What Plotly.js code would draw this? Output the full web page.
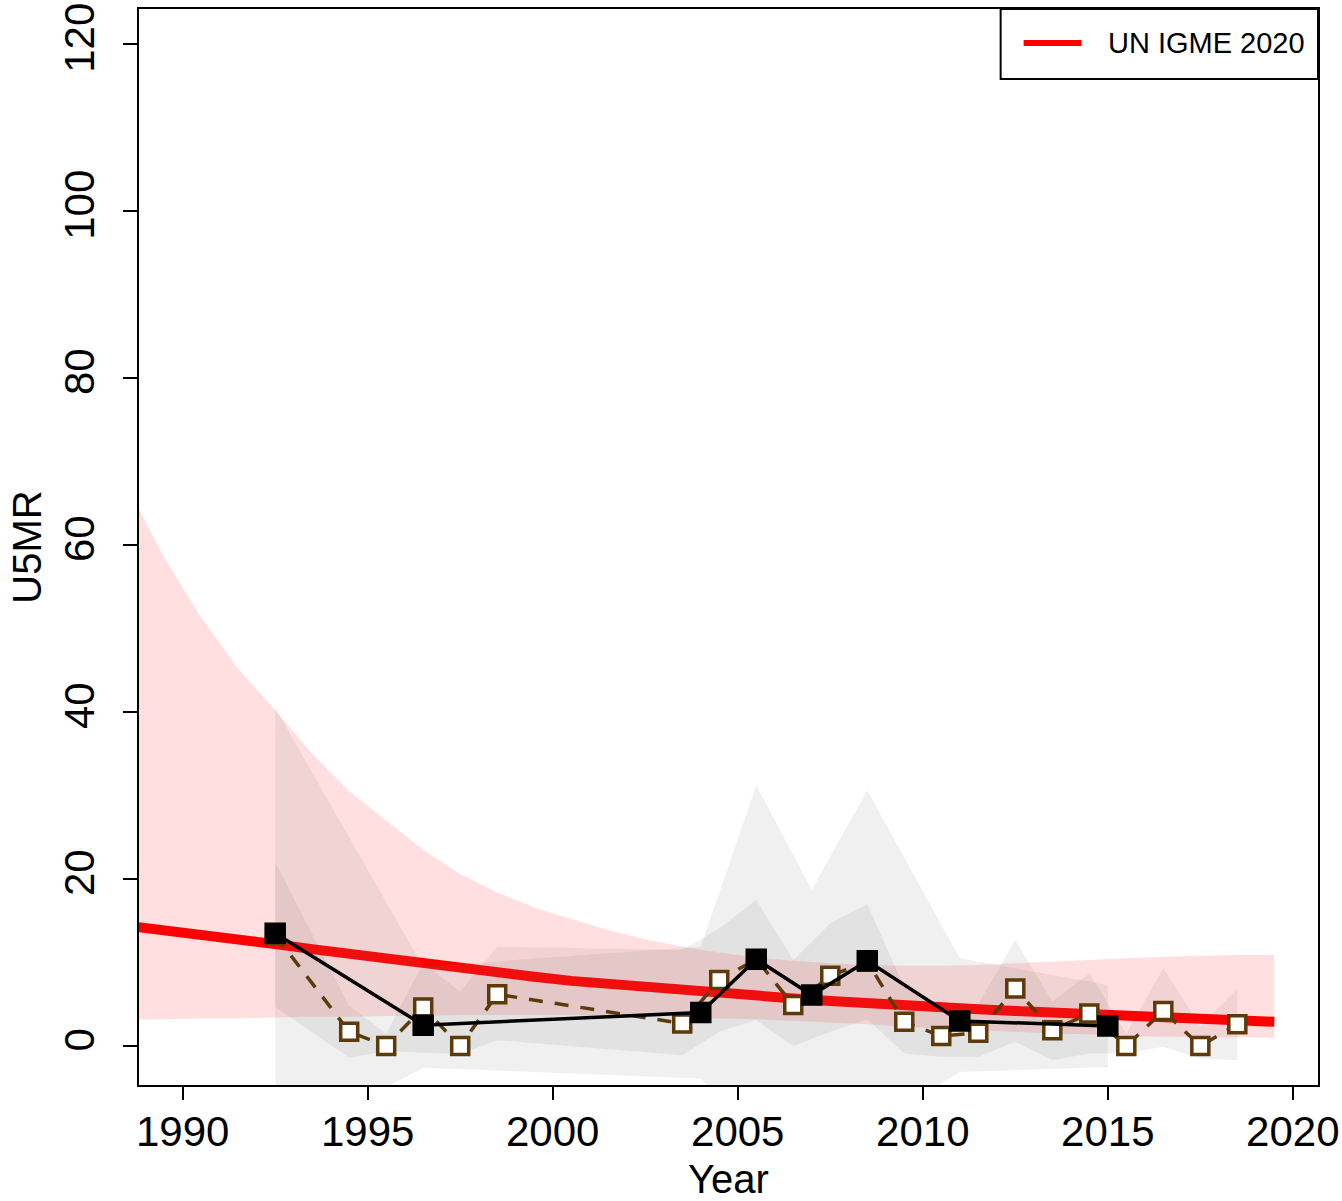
<!DOCTYPE html>
<html>
<head>
<meta charset="utf-8">
<script src="https://cdn.plot.ly/plotly-3.0.1.min.js"></script>
<style>
  html, body { margin: 0; padding: 0; background: #ffffff; }
  #chart { width: 1342px; height: 1201px; }
</style>
</head>
<body>
<div id="chart"></div>
<script>
// ---------------- data ----------------
// UN IGME 2020 estimate (median and 90% uncertainty bounds)
const estYears  = [1988.5, 1989.5, 1990.5, 1991.5, 1992.5, 1993.5, 1994.5, 1995.5, 1996.5, 1997.5,
                   1998.5, 1999.5, 2000.5, 2001.5, 2002.5, 2003.5, 2004.5, 2005.5, 2006.5, 2007.5,
                   2008.5, 2009.5, 2010.5, 2011.5, 2012.5, 2013.5, 2014.5, 2015.5, 2016.5, 2017.5,
                   2018.5, 2019.5];
const estMedian = [14.4, 13.9, 13.3, 12.8, 12.2, 11.6, 11.0, 10.4, 9.8, 9.3,
                   8.8, 8.3, 7.8, 7.4, 7.0, 6.6, 6.3, 6.0, 5.7, 5.4,
                   5.1, 4.9, 4.6, 4.4, 4.2, 4.0, 3.8, 3.6, 3.4, 3.2,
                   3.1, 2.9];
const estLower  = [3.1, 3.2, 3.3, 3.3, 3.4, 3.5, 3.5, 3.6, 3.6, 3.7,
                   3.7, 3.7, 3.7, 3.6, 3.6, 3.5, 3.3, 3.2, 3.0, 2.8,
                   2.6, 2.3, 2.1, 1.9, 1.7, 1.5, 1.4, 1.2, 1.1, 1.05,
                   1.0, 1.0];
const estUpper  = [67.0, 58.5, 51.3, 45.2, 40.2, 35.0, 30.5, 27.0, 23.5, 20.6,
                   18.4, 16.6, 15.2, 13.9, 12.8, 11.9, 11.2, 10.6, 10.2, 9.9,
                   9.7, 9.6, 9.6, 9.7, 9.9, 10.1, 10.3, 10.5, 10.7, 10.8,
                   10.9, 10.9];

// Data series 1 (black, filled squares, solid line)
const blackYears  = [1992.5, 1996.5, 2004.0, 2005.5, 2007.0, 2008.5, 2011.0, 2015.0];
const blackValues = [13.5, 2.5, 4.0, 10.4, 6.1, 10.2, 3.0, 2.4];
const blackLower  = [-12.0, -2.6, -3.9, -11.0, -6.0, -10.0, -3.1, -2.5];
const blackUpper  = [40.5, 9.5, 11.9, 31.2, 18.7, 30.6, 10.5, 7.3];

// Data series 2 (brown, open squares, dashed line)
const brownYears  = [1992.5, 1994.5, 1995.5, 1996.5, 1997.5, 1998.5, 2003.5, 2004.5, 2005.5, 2006.5,
                     2007.5, 2008.5, 2009.5, 2010.5, 2011.5, 2012.5, 2013.5, 2014.5, 2015.5, 2016.5,
                     2017.5, 2018.5];
const brownValues = [13.3, 1.7, 0.0, 4.6, 0.0, 6.2, 2.7, 7.9, 10.4, 4.9,
                     8.4, 10.1, 2.9, 1.2, 1.6, 6.9, 1.9, 3.9, 0.0, 4.2,
                     0.0, 2.6];
const brownLower  = [4.7, -1.4, -0.6, -0.8, -1.0, 0.7, -1.1, 1.7, 3.1, 0.0,
                     1.7, 3.2, -0.9, -1.3, -1.3, 0.5, -1.7, -0.9, -0.9, -0.1,
                     -1.5, -1.7];
const brownUpper  = [22.0, 4.8, 1.5, 9.9, 6.5, 11.9, 11.5, 14.1, 17.5, 10.3,
                     14.7, 17.0, 7.0, 4.5, 5.0, 12.7, 5.3, 8.7, 1.5, 9.3,
                     2.3, 6.9];

const xTickVals = [1990, 1995, 2000, 2005, 2010, 2015, 2020];
const yTickVals = [0, 20, 40, 60, 80, 100, 120];
const legendLabel = "UN IGME 2020";
const xTitle = "Year";
const yTitle = "U5MR";

// ---------------- helpers ----------------
function band(xs, lo, hi) {
  return {
    x: xs.concat(xs.slice().reverse()),
    y: lo.concat(hi.slice().reverse())
  };
}

const FONT = "Liberation Sans, Arial, Helvetica, sans-serif";
const BROWN = "#5C3A0A";
const GREY_FILL = "rgba(120,120,120,0.115)";

const bBrown = band(brownYears, brownLower, brownUpper);
const bEst = band(estYears, estLower, estUpper);
const bBlack = band(blackYears, blackLower, blackUpper);

const traces = [
  { type: "scatter", mode: "lines", x: bBrown.x, y: bBrown.y, fill: "toself",
    fillcolor: GREY_FILL, line: { width: 0 }, hoverinfo: "skip", showlegend: false },
  { type: "scatter", mode: "lines", x: bEst.x, y: bEst.y, fill: "toself",
    fillcolor: "rgba(255,0,0,0.125)", line: { width: 0 }, hoverinfo: "skip", showlegend: false },
  { type: "scatter", mode: "lines", x: estYears, y: estMedian, name: legendLabel,
    line: { color: "#FF0000", width: 10 }, showlegend: false },
  { type: "scatter", mode: "lines", x: bBlack.x, y: bBlack.y, fill: "toself",
    fillcolor: GREY_FILL, line: { width: 0 }, hoverinfo: "skip", showlegend: false },
  { type: "scatter", mode: "lines+markers", x: brownYears, y: brownValues,
    line: { color: BROWN, width: 3.5, dash: "14px,12px" },
    marker: { symbol: "square", size: 17, color: "#FFFFFF", line: { color: BROWN, width: 3.5 } },
    showlegend: false },
  { type: "scatter", mode: "lines+markers", x: blackYears, y: blackValues,
    line: { color: "#000000", width: 3.5 },
    marker: { symbol: "square", size: 20, color: "#000000", line: { color: "#000000", width: 1.5 } },
    showlegend: false }
];

// plot area geometry in px (for paper-coordinate legend box)
const L = 139, R = 23.5, T = 9, B = 116, W = 1342, H = 1201;
const pw = W - L - R, ph = H - T - B;
const px = v => (v - L) / pw;
const py = v => (H - B - v) / ph;

const layout = {
  width: W, height: H,
  margin: { l: L, r: R, t: T, b: B, pad: 0 },
  paper_bgcolor: "#FFFFFF", plot_bgcolor: "#FFFFFF",
  font: { family: FONT, color: "#000000" },
  showlegend: false,
  xaxis: {
    range: [1988.82, 2020.68], tickmode: "array", tickvals: xTickVals,
    ticks: "outside", ticklen: 13, tickwidth: 2, tickcolor: "#000",
    showline: true, mirror: true, linecolor: "#000", linewidth: 2,
    showgrid: false, zeroline: false,
    tickfont: { size: 42, family: FONT }, ticklabelstandoff: -4,
    title: { text: xTitle, font: { size: 40, family: FONT }, standoff: 18 },
    automargin: false
  },
  yaxis: {
    range: [-4.67, 124.2], tickmode: "array", tickvals: yTickVals,
    ticks: "outside", ticklen: 14, tickwidth: 2, tickcolor: "#000",
    showline: true, mirror: true, linecolor: "#000", linewidth: 2,
    showgrid: false, zeroline: false, tickangle: -90,
    tickfont: { size: 42, family: FONT }, ticklabelstandoff: 12,
    title: { text: yTitle, font: { size: 40, family: FONT }, standoff: 2 },
    automargin: false
  },
  shapes: [
    { type: "rect", xref: "paper", yref: "paper", x0: px(1001), x1: 1, y0: py(79), y1: 1,
      fillcolor: "#FFFFFF", line: { color: "#000", width: 2 }, layer: "above" },
    { type: "line", xref: "paper", yref: "paper", x0: px(1024), x1: px(1082), y0: py(43), y1: py(43),
      line: { color: "#FF0000", width: 6 }, layer: "above" }
  ],
  annotations: [
    { xref: "paper", yref: "paper", x: px(1106), y: py(43), xanchor: "left", yanchor: "middle",
      text: legendLabel, showarrow: false, font: { size: 29, family: FONT, color: "#000" } }
  ]
};

Plotly.newPlot("chart", traces, layout, { staticPlot: true, displayModeBar: false });
</script>
</body>
</html>
